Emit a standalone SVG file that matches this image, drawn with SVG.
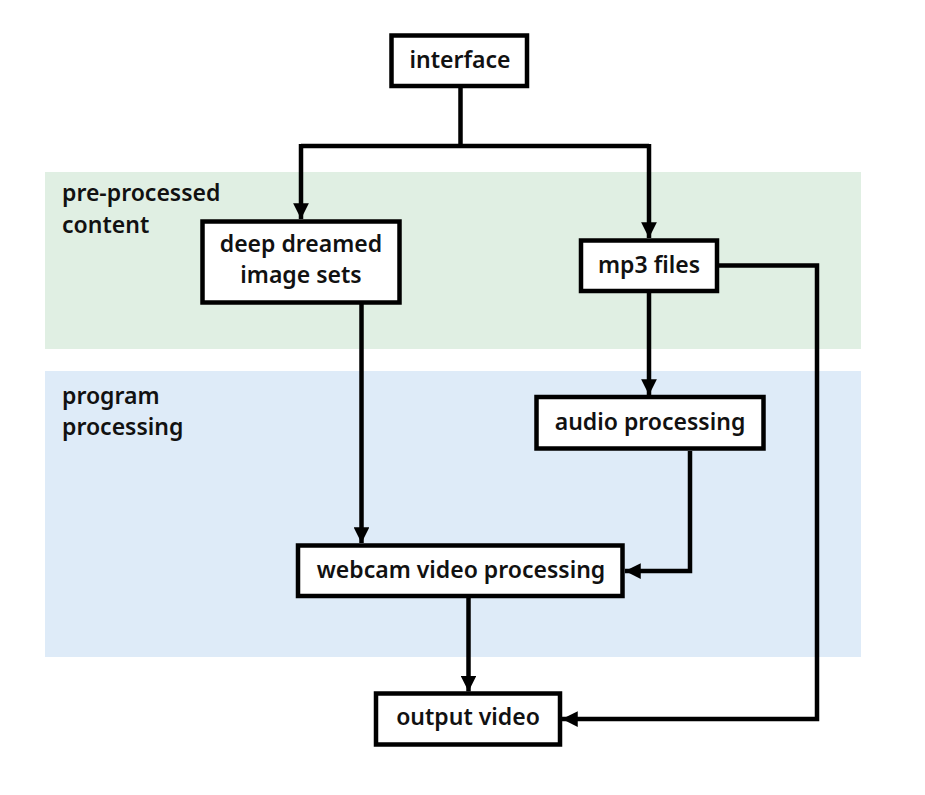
<svg xmlns="http://www.w3.org/2000/svg" width="925" height="795" viewBox="0 0 925 795">
<defs>
<style>
.box{fill:#fff;stroke:#000;stroke-width:4.5}
.t{font-family:"Noto Sans","Open Sans","Liberation Sans",sans-serif;font-weight:600;font-size:23px;fill:#111}
.tc{text-anchor:middle}
.ln{fill:none;stroke:#000;stroke-width:4.5}
</style>
<marker id="ah" viewBox="0 0 10 10" refX="10" refY="5" markerWidth="3.5" markerHeight="3.5" markerUnits="strokeWidth" orient="auto">
<path d="M0,0 L10,5 L0,10 Z" fill="#000"/>
</marker>
</defs>
<rect width="925" height="795" fill="#fff"/>
<g id="band-pre">
<rect x="45" y="172" width="816" height="177" fill="#e0efe3"/>
<text class="t" x="62" y="201">pre-processed</text>
<text class="t" x="62" y="233">content</text>
</g>
<g id="band-prog">
<rect x="45" y="371" width="816" height="286" fill="#deebf8"/>
<text class="t" x="62" y="404">program</text>
<text class="t" x="62" y="435">processing</text>
</g>
<g id="connectors">
<path class="ln" d="M460.5,88 V146 M301,146 H649"/>
<path class="ln" d="M301,144 V219" marker-end="url(#ah)"/>
<path class="ln" d="M649,144 V238" marker-end="url(#ah)"/>
<path class="ln" d="M649,293 V395" marker-end="url(#ah)"/>
<path class="ln" d="M361.5,304 V543" marker-end="url(#ah)"/>
<path class="ln" d="M690,451 V571 H625" marker-end="url(#ah)"/>
<path class="ln" d="M468.5,598 V691.5" marker-end="url(#ah)"/>
<path class="ln" d="M718,265.5 H817 V719 H562" marker-end="url(#ah)"/>
</g>
<g id="node-interface">
<rect class="box" x="391.5" y="35.5" width="135.5" height="50.5"/>
<text class="t tc" x="460" y="68">interface</text>
</g>
<g id="node-deepdream">
<rect class="box" x="202.5" y="221.5" width="197" height="81"/>
<text class="t tc" x="301" y="252">deep dreamed</text>
<text class="t tc" x="301" y="283">image sets</text>
</g>
<g id="node-mp3">
<rect class="box" x="581" y="240.5" width="136" height="50.5"/>
<text class="t tc" x="649" y="273">mp3 files</text>
</g>
<g id="node-audio">
<rect class="box" x="536.5" y="397" width="227" height="51.5"/>
<text class="t tc" x="650" y="430">audio processing</text>
</g>
<g id="node-webcam">
<rect class="box" x="298" y="545.5" width="324.5" height="50.5"/>
<text class="t tc" x="461" y="578">webcam video processing</text>
</g>
<g id="node-output">
<rect class="box" x="376" y="693.5" width="184" height="51"/>
<text class="t tc" x="468" y="725">output video</text>
</g>
</svg>
